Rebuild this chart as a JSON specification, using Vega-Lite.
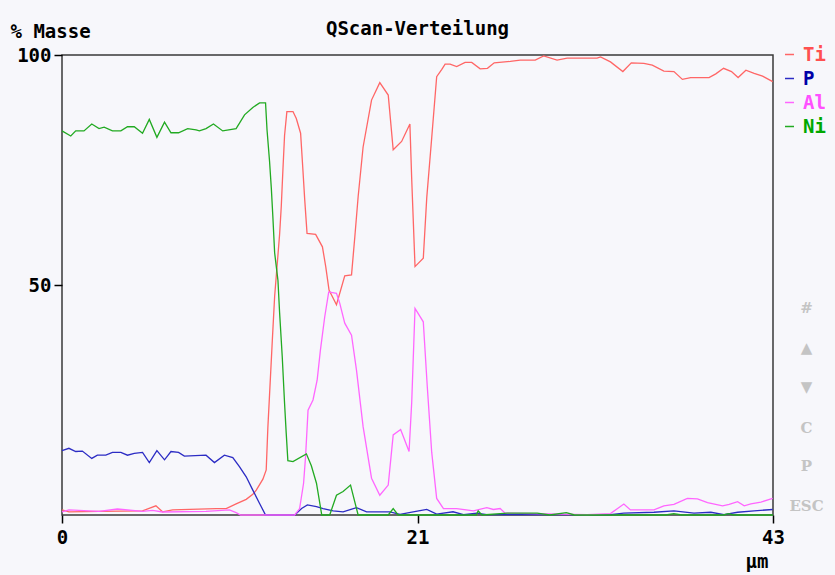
{
"$schema": "https://vega.github.io/schema/vega-lite/v6.json",
"width": 711, "height": 460,
"autosize": {"type": "none"},
"padding": {"left": 62, "top": 55, "right": 62, "bottom": 60},
"background": "#f7f7fb",
"title": {"text": "QScan-Verteilung", "font": "DejaVu Sans Mono", "fontWeight": "bold", "fontSize": 19, "color": "#000000", "anchor": "middle", "frame": "group", "offset": 8, "dy": 25},
"data": {"values": [
{"e":"Ti","x":0,"y":1.1},{"e":"Ti","x":0.42,"y":0.7},{"e":"Ti","x":2.24,"y":0.8},{"e":"Ti","x":4.87,"y":0.9},{"e":"Ti","x":5.68,"y":2.0},{"e":"Ti","x":6.08,"y":0.7},{"e":"Ti","x":6.69,"y":1.1},{"e":"Ti","x":9.32,"y":1.4},{"e":"Ti","x":9.93,"y":1.4},{"e":"Ti","x":10.53,"y":2.4},{"e":"Ti","x":11.14,"y":3.4},{"e":"Ti","x":11.54,"y":4.5},{"e":"Ti","x":11.75,"y":5.4},{"e":"Ti","x":12.15,"y":7.8},{"e":"Ti","x":12.35,"y":9.8},{"e":"Ti","x":12.45,"y":19},{"e":"Ti","x":12.55,"y":26},{"e":"Ti","x":12.72,"y":38},{"e":"Ti","x":12.86,"y":47.5},{"e":"Ti","x":13.02,"y":54.7},{"e":"Ti","x":13.16,"y":61},{"e":"Ti","x":13.26,"y":67},{"e":"Ti","x":13.36,"y":75},{"e":"Ti","x":13.46,"y":82.5},{"e":"Ti","x":13.6,"y":87.7},{"e":"Ti","x":13.97,"y":87.7},{"e":"Ti","x":14.17,"y":86.2},{"e":"Ti","x":14.43,"y":83},{"e":"Ti","x":14.57,"y":75},{"e":"Ti","x":14.68,"y":68.5},{"e":"Ti","x":14.82,"y":61.2},{"e":"Ti","x":15.34,"y":61},{"e":"Ti","x":15.75,"y":58.3},{"e":"Ti","x":15.95,"y":54},{"e":"Ti","x":16.15,"y":48.9},{"e":"Ti","x":16.6,"y":45.7},{"e":"Ti","x":17.1,"y":52},{"e":"Ti","x":17.51,"y":52.2},{"e":"Ti","x":17.71,"y":60.5},{"e":"Ti","x":17.91,"y":69.2},{"e":"Ti","x":18.21,"y":80},{"e":"Ti","x":18.72,"y":90.2},{"e":"Ti","x":19.22,"y":94},{"e":"Ti","x":19.73,"y":91.3},{"e":"Ti","x":20.03,"y":79.4},{"e":"Ti","x":20.54,"y":81.2},{"e":"Ti","x":21.04,"y":85},{"e":"Ti","x":21.15,"y":73},{"e":"Ti","x":21.35,"y":54},{"e":"Ti","x":21.85,"y":55.8},{"e":"Ti","x":22.06,"y":69},{"e":"Ti","x":22.36,"y":82},{"e":"Ti","x":22.66,"y":95.3},{"e":"Ti","x":22.96,"y":96.8},{"e":"Ti","x":23.17,"y":98},{"e":"Ti","x":23.47,"y":98},{"e":"Ti","x":23.87,"y":97.5},{"e":"Ti","x":24.38,"y":98.4},{"e":"Ti","x":24.78,"y":98.4},{"e":"Ti","x":25.29,"y":97},{"e":"Ti","x":25.73,"y":97.1},{"e":"Ti","x":26.14,"y":98.3},{"e":"Ti","x":27.11,"y":98.6},{"e":"Ti","x":27.71,"y":98.9},{"e":"Ti","x":28.62,"y":98.9},{"e":"Ti","x":29.13,"y":99.8},{"e":"Ti","x":29.94,"y":98.9},{"e":"Ti","x":30.55,"y":99.3},{"e":"Ti","x":31.55,"y":99.3},{"e":"Ti","x":32.36,"y":99.3},{"e":"Ti","x":32.57,"y":99.6},{"e":"Ti","x":33.17,"y":98.5},{"e":"Ti","x":33.92,"y":96.4},{"e":"Ti","x":34.43,"y":98.3},{"e":"Ti","x":35.19,"y":98.2},{"e":"Ti","x":35.7,"y":97.8},{"e":"Ti","x":36.4,"y":96.5},{"e":"Ti","x":37.01,"y":96.4},{"e":"Ti","x":37.52,"y":94.7},{"e":"Ti","x":38.02,"y":95.1},{"e":"Ti","x":39.13,"y":95.1},{"e":"Ti","x":39.54,"y":95.9},{"e":"Ti","x":40.01,"y":97.1},{"e":"Ti","x":40.49,"y":96.4},{"e":"Ti","x":40.89,"y":95.1},{"e":"Ti","x":41.36,"y":96.7},{"e":"Ti","x":41.86,"y":96},{"e":"Ti","x":42.37,"y":95.4},{"e":"Ti","x":42.98,"y":94.2},
{"e":"P","x":0,"y":14},{"e":"P","x":0.42,"y":14.5},{"e":"P","x":0.83,"y":13.8},{"e":"P","x":1.23,"y":13.9},{"e":"P","x":1.8,"y":12.3},{"e":"P","x":2.14,"y":13},{"e":"P","x":2.65,"y":13},{"e":"P","x":3.05,"y":13.6},{"e":"P","x":3.56,"y":13.6},{"e":"P","x":3.96,"y":13},{"e":"P","x":4.37,"y":13.4},{"e":"P","x":4.87,"y":13.6},{"e":"P","x":5.28,"y":11.4},{"e":"P","x":5.74,"y":14},{"e":"P","x":6.2,"y":12},{"e":"P","x":6.59,"y":13.8},{"e":"P","x":7.05,"y":13.6},{"e":"P","x":7.4,"y":12.8},{"e":"P","x":8.71,"y":13},{"e":"P","x":9.22,"y":11.4},{"e":"P","x":9.82,"y":13},{"e":"P","x":10.33,"y":12.5},{"e":"P","x":10.73,"y":10.5},{"e":"P","x":11.14,"y":8.3},{"e":"P","x":11.54,"y":5.4},{"e":"P","x":11.95,"y":2.5},{"e":"P","x":12.31,"y":0},{"e":"P","x":14.07,"y":0},{"e":"P","x":14.49,"y":1.4},{"e":"P","x":14.84,"y":2.2},{"e":"P","x":15.39,"y":1.8},{"e":"P","x":15.79,"y":1.4},{"e":"P","x":16.4,"y":0.9},{"e":"P","x":17.0,"y":0.7},{"e":"P","x":17.81,"y":1.6},{"e":"P","x":18.42,"y":0.7},{"e":"P","x":19.83,"y":0.7},{"e":"P","x":20.44,"y":0.15},{"e":"P","x":21.24,"y":0.7},{"e":"P","x":22.06,"y":1.2},{"e":"P","x":22.66,"y":0.2},{"e":"P","x":23.65,"y":0.7},{"e":"P","x":24.28,"y":0.1},{"e":"P","x":25.09,"y":0.4},{"e":"P","x":25.69,"y":0.1},{"e":"P","x":33.17,"y":0.1},{"e":"P","x":33.98,"y":0.4},{"e":"P","x":35.8,"y":0.6},{"e":"P","x":37.01,"y":0.9},{"e":"P","x":38.22,"y":0.4},{"e":"P","x":39.24,"y":0.6},{"e":"P","x":40.04,"y":0.1},{"e":"P","x":40.86,"y":0.6},{"e":"P","x":41.86,"y":0.9},{"e":"P","x":42.98,"y":1.2},
{"e":"Al","x":0,"y":0.7},{"e":"Al","x":0.42,"y":1.1},{"e":"Al","x":2.24,"y":0.8},{"e":"Al","x":3.35,"y":1.3},{"e":"Al","x":4.87,"y":0.8},{"e":"Al","x":5.48,"y":1.0},{"e":"Al","x":6.08,"y":0.65},{"e":"Al","x":8.71,"y":0.8},{"e":"Al","x":10.13,"y":1.1},{"e":"Al","x":10.53,"y":0.5},{"e":"Al","x":10.8,"y":0},{"e":"Al","x":14.07,"y":0},{"e":"Al","x":14.37,"y":1.4},{"e":"Al","x":14.61,"y":6.9},{"e":"Al","x":14.73,"y":12.7},{"e":"Al","x":14.88,"y":22.8},{"e":"Al","x":15.18,"y":25},{"e":"Al","x":15.43,"y":29.3},{"e":"Al","x":15.63,"y":35.9},{"e":"Al","x":15.89,"y":43.1},{"e":"Al","x":16.13,"y":48.5},{"e":"Al","x":16.6,"y":48.2},{"e":"Al","x":16.8,"y":46},{"e":"Al","x":17.1,"y":41.7},{"e":"Al","x":17.51,"y":39.1},{"e":"Al","x":17.81,"y":31.5},{"e":"Al","x":18.21,"y":19.2},{"e":"Al","x":18.72,"y":8},{"e":"Al","x":19.22,"y":4.3},{"e":"Al","x":19.73,"y":6.5},{"e":"Al","x":20.03,"y":17.4},{"e":"Al","x":20.48,"y":18.6},{"e":"Al","x":20.99,"y":13.8},{"e":"Al","x":21.15,"y":24.5},{"e":"Al","x":21.35,"y":44.9},{"e":"Al","x":21.85,"y":42},{"e":"Al","x":22.09,"y":28},{"e":"Al","x":22.36,"y":13.6},{"e":"Al","x":22.66,"y":3.6},{"e":"Al","x":23.07,"y":1.4},{"e":"Al","x":23.87,"y":1.4},{"e":"Al","x":24.88,"y":0.9},{"e":"Al","x":25.69,"y":1.6},{"e":"Al","x":26.09,"y":1.2},{"e":"Al","x":26.5,"y":1.4},{"e":"Al","x":26.8,"y":0.4},{"e":"Al","x":31.76,"y":0.1},{"e":"Al","x":33.17,"y":0.3},{"e":"Al","x":33.98,"y":2.4},{"e":"Al","x":34.38,"y":1.1},{"e":"Al","x":35.8,"y":1.1},{"e":"Al","x":36.4,"y":2.0},{"e":"Al","x":37.01,"y":2.3},{"e":"Al","x":37.82,"y":3.6},{"e":"Al","x":38.43,"y":3.5},{"e":"Al","x":39.04,"y":2.7},{"e":"Al","x":39.95,"y":2.0},{"e":"Al","x":40.35,"y":2.3},{"e":"Al","x":40.86,"y":2.9},{"e":"Al","x":41.26,"y":2.0},{"e":"Al","x":41.66,"y":2.4},{"e":"Al","x":42.27,"y":2.8},{"e":"Al","x":42.98,"y":3.6},
{"e":"Ni","x":0,"y":83.5},{"e":"Ni","x":0.53,"y":82.4},{"e":"Ni","x":0.83,"y":83.5},{"e":"Ni","x":1.33,"y":83.5},{"e":"Ni","x":1.8,"y":85},{"e":"Ni","x":2.24,"y":84},{"e":"Ni","x":2.55,"y":84.3},{"e":"Ni","x":3.05,"y":83.5},{"e":"Ni","x":3.56,"y":83.5},{"e":"Ni","x":3.96,"y":84.4},{"e":"Ni","x":4.37,"y":84.4},{"e":"Ni","x":4.87,"y":83},{"e":"Ni","x":5.28,"y":86},{"e":"Ni","x":5.74,"y":82.1},{"e":"Ni","x":6.2,"y":85.4},{"e":"Ni","x":6.59,"y":83.1},{"e":"Ni","x":7.05,"y":83.1},{"e":"Ni","x":7.6,"y":84},{"e":"Ni","x":8.11,"y":83.7},{"e":"Ni","x":8.31,"y":83.5},{"e":"Ni","x":8.71,"y":84},{"e":"Ni","x":9.16,"y":85},{"e":"Ni","x":9.72,"y":83.5},{"e":"Ni","x":10.53,"y":84},{"e":"Ni","x":11.04,"y":87},{"e":"Ni","x":11.54,"y":88.6},{"e":"Ni","x":11.95,"y":89.6},{"e":"Ni","x":12.31,"y":89.6},{"e":"Ni","x":12.4,"y":83.7},{"e":"Ni","x":12.55,"y":77},{"e":"Ni","x":12.66,"y":71},{"e":"Ni","x":12.75,"y":65},{"e":"Ni","x":12.86,"y":57},{"e":"Ni","x":13.06,"y":51},{"e":"Ni","x":13.16,"y":44},{"e":"Ni","x":13.32,"y":34.4},{"e":"Ni","x":13.46,"y":24.3},{"e":"Ni","x":13.56,"y":17.8},{"e":"Ni","x":13.66,"y":11.8},{"e":"Ni","x":13.97,"y":11.6},{"e":"Ni","x":14.78,"y":13.3},{"e":"Ni","x":15.08,"y":10.7},{"e":"Ni","x":15.39,"y":6.9},{"e":"Ni","x":15.71,"y":0},{"e":"Ni","x":16.19,"y":0},{"e":"Ni","x":16.6,"y":4.3},{"e":"Ni","x":17.0,"y":5.1},{"e":"Ni","x":17.45,"y":6.5},{"e":"Ni","x":17.91,"y":0},{"e":"Ni","x":19.73,"y":0},{"e":"Ni","x":20.03,"y":1.4},{"e":"Ni","x":20.33,"y":0},{"e":"Ni","x":25.05,"y":0},{"e":"Ni","x":25.17,"y":0.9},{"e":"Ni","x":25.4,"y":0},{"e":"Ni","x":26.93,"y":0.4},{"e":"Ni","x":28.74,"y":0.4},{"e":"Ni","x":29.5,"y":0},{"e":"Ni","x":30.5,"y":0.5},{"e":"Ni","x":31,"y":0},{"e":"Ni","x":36.5,"y":0},{"e":"Ni","x":37,"y":0.3},{"e":"Ni","x":37.5,"y":0},{"e":"Ni","x":40,"y":0},{"e":"Ni","x":40.3,"y":0.3},{"e":"Ni","x":40.6,"y":0},{"e":"Ni","x":43,"y":0}
]},
"encoding": {
  "x": {"field": "x", "type": "quantitative", "scale": {"domain": [0, 43], "nice": false, "zero": false},
        "axis": {"values": [0, 21.5, 43], "labelExpr": "'' + floor(datum.value)", "title": "μm", "titleAlign": "right", "titleAnchor": "end", "titleX": 706, "titleY": 46, "titleBaseline": "middle", "tickSize": 8, "labelPadding": 5, "labelFlush": false, "labelOverlap": false, "labelBound": false}}
},
"layer": [
  {"mark": {"type": "line", "strokeWidth": 1.3},
   "encoding": {
     "y": {"field": "y", "type": "quantitative", "scale": {"domain": [0, 100], "nice": false},
           "axis": {"orient": "left", "values": [50, 100], "title": "% Masse", "titleAngle": 0, "titleAlign": "left", "titleX": -52, "titleY": -24, "titleBaseline": "middle", "tickSize": 8, "labelPadding": 3, "labelBaseline": "middle", "labelFlush": false, "labelOverlap": false, "labelBound": false}},
     "color": {"field": "e", "type": "nominal",
       "scale": {"domain": ["Ti", "P", "Al", "Ni"], "range": ["#ff6666", "#2c2cc4", "#ff66ff", "#22aa22"]},
       "legend": {"orient": "none", "legendX": 718, "legendY": -10, "title": null, "padding": 0, "symbolType": "stroke", "symbolSize": 81, "symbolStrokeWidth": 1.5, "labelOffset": 4, "rowPadding": 4, "labelFont": "DejaVu Sans Mono", "labelFontWeight": "bold", "labelFontSize": 19, "labelLimit": 0,
         "labelExpr": "datum.value == 'P' ? '\u00a0P' : datum.label",
         "labelColor": {"expr": "datum.value == 'Ti' ? '#ff5050' : datum.value == 'P' ? '#0000a8' : datum.value == 'Al' ? '#ff50ff' : '#00a800'"}}}
   }},
  {"mark": {"type": "point", "opacity": 0},
   "encoding": {
     "y": {"field": "y", "type": "quantitative", "scale": {"domain": [0, 100], "nice": false},
           "axis": {"orient": "right", "values": [2, 10.7, 19.1, 28, 36.5, 45.2],
             "labelExpr": "datum.value > 40 ? '#' : datum.value > 30 ? '▲' : datum.value > 20 ? '▼' : datum.value > 15 ? 'C' : datum.value > 5 ? 'P' : 'ESC'",
             "ticks": false, "tickSize": 0, "domain": false, "grid": false, "title": null, "labelPadding": 33, "labelAlign": "center", "labelBaseline": "middle",
             "labelFont": "DejaVu Serif", "labelFontWeight": "bold", "labelFontSize": 15, "labelColor": "#c4c4c4", "labelOverlap": false, "labelFlush": false, "labelBound": false}}
   }}
],
"resolve": {"axis": {"y": "independent"}},
"config": {
  "view": {"stroke": "#3a3a3a", "strokeWidth": 1.5, "fill": "#f7f7fb"},
  "axis": {"grid": false, "domain": false, "labelFont": "DejaVu Sans Mono", "labelFontWeight": "bold", "labelFontSize": 19, "labelColor": "#000000", "titleFont": "DejaVu Sans Mono", "titleFontWeight": "bold", "titleFontSize": 19, "titleColor": "#000000", "tickColor": "#000000", "tickWidth": 1.5}
}
}
